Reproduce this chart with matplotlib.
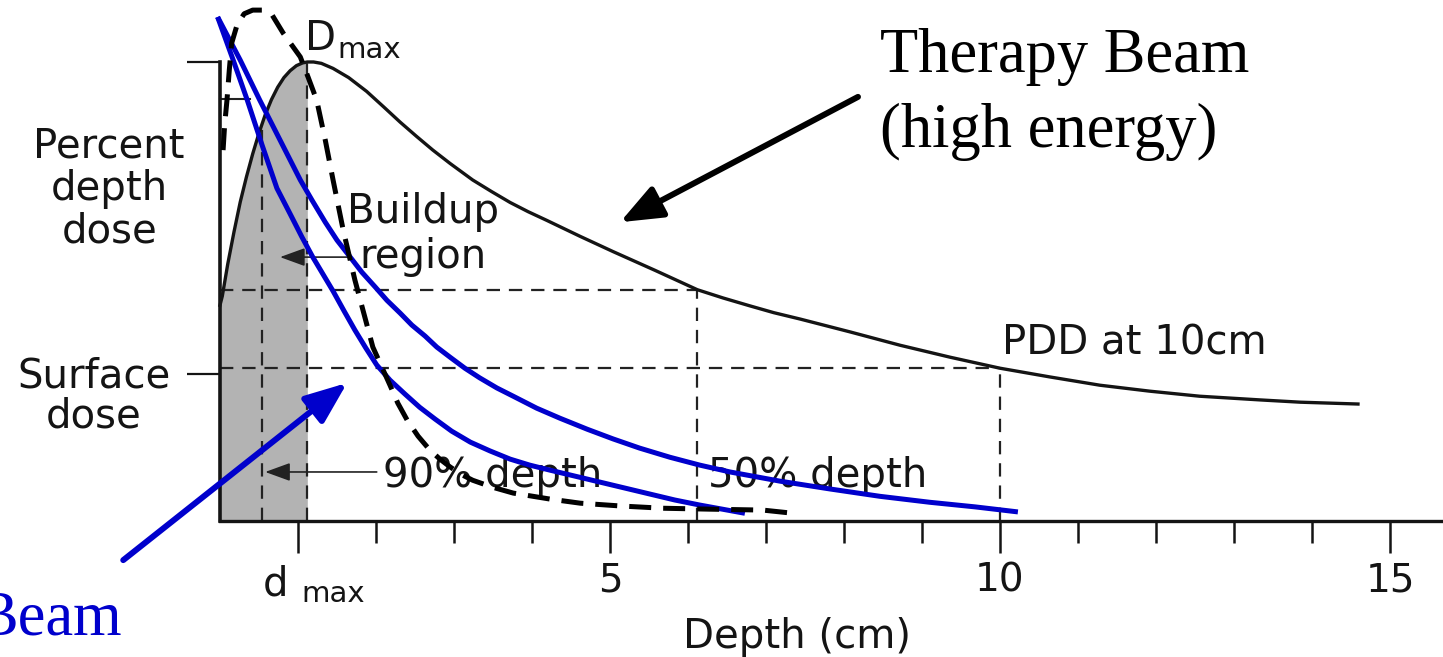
import matplotlib
matplotlib.use("Agg")
import matplotlib.pyplot as plt
from matplotlib.patches import FancyArrowPatch

# ---- data (depth in cm, dose in %) ----
# therapy beam PDD curve
pdd_depth = [0.0, 0.03, 0.10, 0.18, 0.26, 0.34, 0.42, 0.50, 0.58, 0.66, 0.74, 0.82,
             0.90, 0.98, 1.06, 1.12, 1.20, 1.30, 1.45, 1.65, 1.88, 2.10, 2.31, 2.52,
             2.73, 2.95, 3.24, 3.48, 3.72, 3.95, 4.19, 4.62, 5.04, 5.58, 6.12, 6.45,
             6.79, 7.10, 7.44, 8.08, 8.72, 9.36, 10.0, 10.64, 11.28, 11.92, 12.56,
             13.33, 13.85, 14.59]
pdd_dose = [47.0, 49.0, 56.0, 63.0, 69.5, 75.0, 80.0, 84.5, 88.5, 91.8, 94.5, 96.6,
            98.1, 99.2, 99.8, 100.0, 100.0, 99.7, 98.6, 96.6, 93.6, 90.2, 86.9, 83.8,
            80.8, 77.9, 74.3, 71.8, 69.4, 67.4, 65.5, 62.0, 58.7, 54.6, 50.4, 48.6,
            46.9, 45.4, 44.0, 41.2, 38.3, 35.7, 33.3, 31.4, 29.6, 28.3, 27.2, 26.4,
            25.9, 25.5]

# low energy beams (blue overlay curves)
blue_outer_depth = [-0.03, 0.26, 0.51, 0.77, 1.03, 1.18, 1.35, 1.50, 1.67, 1.82, 1.99,
                    2.14, 2.31, 2.46, 2.63, 2.78, 2.95, 3.14, 3.33, 3.55, 3.76, 4.06,
                    4.36, 4.71, 5.04, 5.38, 5.77, 6.15, 6.54, 7.18, 7.82, 8.46, 9.10,
                    9.68, 10.23]
blue_outer_dose = [109.8, 100.4, 91.7, 83.0, 74.3, 69.9, 65.1, 61.2, 57.5, 54.2, 51.0,
                   48.1, 45.3, 42.7, 40.3, 37.9, 35.7, 33.3, 31.2, 29.0, 27.2, 24.6,
                   22.4, 20.0, 17.9, 15.9, 13.9, 12.2, 10.7, 8.7, 7.0, 5.4, 4.1,
                   3.1, 2.0]
blue_inner_depth = [-0.03, 0.17, 0.35, 0.54, 0.73, 0.90, 1.05, 1.19, 1.32, 1.45, 1.59,
                    1.73, 1.87, 2.01, 2.18, 2.37, 2.56, 2.76, 2.97, 3.21, 3.46, 3.72,
                    3.97, 4.23, 4.55, 4.87, 5.19, 5.51, 5.83, 6.15, 6.44, 6.73]
blue_inner_dose = [109.8, 100.4, 91.7, 81.9, 72.5, 66.9, 61.9, 57.5, 53.8, 50.1, 45.8,
                   41.6, 37.7, 34.0, 30.7, 27.7, 24.8, 22.2, 19.6, 17.2, 15.3, 13.5,
                   12.2, 11.1, 9.8, 8.5, 7.2, 5.9, 4.6, 3.5, 2.6, 1.7]

# hand-drawn dashed loop
loop_depth = [0.04, 0.06, 0.09, 0.12, 0.15, 0.22, 0.31, 0.42, 0.55, 0.67, 0.81, 0.92,
              1.03, 1.13, 1.24, 1.35, 1.45, 1.58, 1.73, 1.85, 1.96, 2.18, 2.28, 2.40,
              2.54, 2.69, 2.82, 2.95, 3.09, 3.24, 3.49, 3.76, 4.23, 4.62, 5.13, 5.68,
              6.28, 6.96, 7.35]
loop_dose = [80.8, 86.3, 91.7, 98.3, 104.1, 108.1, 110.5, 111.3, 111.3, 110.2, 106.3,
             103.7, 101.1, 96.7, 91.7, 83.0, 74.3, 63.4, 52.5, 44.9, 37.9, 29.6, 25.7,
             22.0, 18.5, 15.5, 13.5, 11.8, 10.2, 8.9, 7.4, 6.1, 4.8, 3.9, 3.3, 2.8,
             2.6, 2.4, 1.7]

d_max = 1.12
depth_90 = 0.54
dose_90_top = 86.0
depth_50, dose_50 = 6.12, 50.3
depth_10, dose_10 = 10.0, 33.3
surface_dose = 32.0
major_ticks = [1, 5, 10, 15]
major_labels = ["", "5", "10", "15"]
minor_ticks = [2, 3, 4, 6, 7, 8, 9, 11, 12, 13, 14]

BLUE = "#0000cc"
INK = "#141414"
SERIF = "Liberation Serif"

fig = plt.figure(figsize=(14.43, 6.57), dpi=100)
ax = fig.add_axes([0, 0, 1, 1])
ax.set_xlim(-2.82, 15.68)
ax.set_ylim(-29.6, 113.5)

# axes styled like the textbook figure
for s in ["top", "right"]:
    ax.spines[s].set_visible(False)
ax.spines["left"].set_position(("data", 0))
ax.spines["bottom"].set_position(("data", 0))
ax.spines["left"].set_bounds(0, 100)
ax.spines["bottom"].set_bounds(0, 15.68)
ax.spines["left"].set_linewidth(2.6)
ax.spines["bottom"].set_linewidth(2.4)
ax.spines["left"].set_color(INK)
ax.spines["bottom"].set_color(INK)

ax.set_xticks(major_ticks)
ax.set_xticklabels(major_labels)
ax.set_xticks(minor_ticks, minor=True)
ax.tick_params(axis="x", which="major", direction="out", length=23, width=1.8,
               pad=6, labelsize=28, colors=INK)
ax.tick_params(axis="x", which="minor", direction="out", length=16, width=1.8, colors=INK)
ax.set_yticks([100, surface_dose])
ax.set_yticklabels([])
ax.tick_params(axis="y", direction="out", length=24, width=1.6, colors=INK)

# shaded buildup region
fill_x = [d for d in pdd_depth if d <= d_max]
fill_y = pdd_dose[:len(fill_x)]
ax.fill_between(fill_x, 0, fill_y, color="#b3b3b3", lw=0, zorder=1)

ax.plot(pdd_depth, pdd_dose, color=INK, lw=2.4, zorder=3, solid_joinstyle="round")

# reference dashed lines
dash = dict(color="#222222", lw=1.6, ls=(0, (6, 4)), zorder=2)
ax.plot([0, depth_50], [dose_50, dose_50], **dash)
ax.plot([0, depth_10], [dose_10, dose_10], **dash)
ax.plot([depth_90, depth_90], [0, dose_90_top], **dash)
ax.plot([d_max, d_max], [0, 100], **dash)
ax.plot([depth_50, depth_50], [0, dose_50], **dash)
ax.plot([depth_10, depth_10], [0, dose_10], **dash)
ax.plot([0, 0.38], [92, 92], color="#222222", lw=1.5, zorder=2)

# small annotation arrows
for x0, x1, y in [(1.63, 0.77, 57.5), (2.01, 0.58, 10.7)]:
    ax.add_patch(FancyArrowPatch((x0, y), (x1, y), arrowstyle="-|>,head_length=1.1,head_width=0.4",
                                 mutation_scale=14, color="#222222", lw=1.2, shrinkA=0, shrinkB=0, zorder=4))

# blue overlay
for xs, ys in [(blue_outer_depth, blue_outer_dose), (blue_inner_depth, blue_inner_dose)]:
    ax.plot(xs, ys, color=BLUE, lw=3.6, zorder=5, solid_capstyle="butt", solid_joinstyle="round")
ax.plot(loop_depth, loop_dose, color="black", lw=3.6, ls=(0, (4.4, 2.4)), zorder=6)

# big arrows
ax.add_patch(FancyArrowPatch((8.18, 92.4), (5.13, 65.1), arrowstyle="-|>,head_length=1.5,head_width=0.6",
                             mutation_scale=17, color="black", lw=4.3, shrinkA=0, shrinkB=0, zorder=7))
ax.add_patch(FancyArrowPatch((-1.24, -8.5), (1.63, 30.1), arrowstyle="-|>,head_length=1.5,head_width=0.6",
                             mutation_scale=17, color=BLUE, lw=4.3, shrinkA=0, shrinkB=0, zorder=7))

# sans labels
lab = dict(fontsize=29, color=INK, va="baseline")
for txt, x, y in [("Percent", -1.42, 79.3), ("depth", -1.42, 69.9), ("dose", -1.42, 60.6),
                  ("Surface", -1.62, 29.2), ("dose", -1.62, 20.3)]:
    ax.text(x, y, txt, ha="center", **lab)
ax.text(1.63, 64.9, "Buildup", ha="left", **lab)
ax.text(1.79, 55.1, "region", ha="left", **lab)
ax.text(2.09, 7.4, "90% depth", ha="left", **lab)
ax.text(6.26, 7.4, "50% depth", ha="left", **lab)
ax.text(10.03, 36.2, "PDD at 10cm", ha="left", **lab)
ax.text(7.40, -27.7, "Depth (cm)", ha="center", **lab)
ax.text(1.09, 102.6, "D", ha="left", **lab)
ax.text(1.51, 100.9, "max", ha="left", fontsize=21, color=INK, va="baseline")
ax.text(0.55, -16.1, "d", ha="left", **lab)
ax.text(1.05, -17.6, "max", ha="left", fontsize=21, color=INK, va="baseline")

# serif callouts
ax.text(8.46, 97.8, "Therapy Beam", family=SERIF, fontsize=45, va="baseline", ha="left")
ax.text(8.46, 81.5, "(high energy)", family=SERIF, fontsize=45, va="baseline", ha="left")
ax.text(-1.26, -24.8, "Beam", family=SERIF, fontsize=45, va="baseline", ha="right", color=BLUE)

fig.savefig("out.png", dpi=100)
